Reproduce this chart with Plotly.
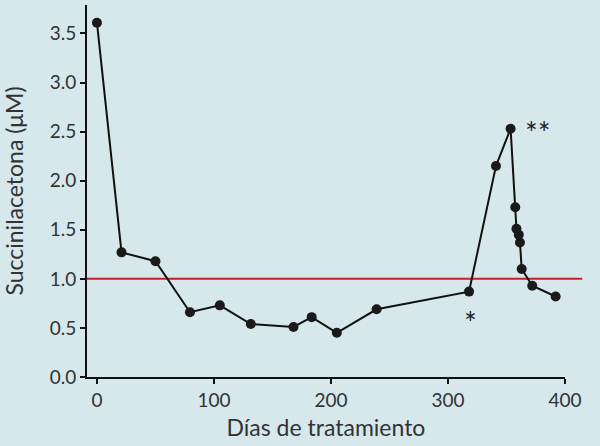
import plotly.graph_objects as go

days = [0, 21, 50, 79.5, 105, 131.5, 168, 183.5, 205, 239, 318, 341, 353.5, 357.5, 358.5, 360.5, 361.5, 363, 372, 392]
succ = [3.61, 1.27, 1.18, 0.66, 0.73, 0.54, 0.51, 0.61, 0.45, 0.69, 0.87, 2.15, 2.53, 1.73, 1.51, 1.45, 1.37, 1.10, 0.93, 0.82]
threshold = 1.0
x_ticks = [0, 100, 200, 300, 400]
y_ticks = [0.0, 0.5, 1.0, 1.5, 2.0, 2.5, 3.0, 3.5]
annotations_txt = [(319, 0.56, "*"), (377, 2.50, "**")]

bg = "#d6e8ec"
font = "Lato"

fig = go.Figure()
fig.add_shape(type="line", xref="paper", yref="y", x0=0, x1=1.036, y0=threshold, y1=threshold,
              line=dict(color="#c41e2e", width=2), layer="below")
fig.add_trace(go.Scatter(x=days, y=succ, mode="lines+markers",
                         line=dict(color="#111111", width=2),
                         marker=dict(color="#1a1a1a", size=10), showlegend=False))
for x, y, t in annotations_txt:
    fig.add_annotation(x=x, y=y, text=t, showarrow=False,
                       font=dict(family=font, size=30, color="#222222"))

fig.update_layout(
    width=600, height=446,
    margin=dict(l=87, r=35, t=5, b=69),
    paper_bgcolor=bg, plot_bgcolor=bg,
    font=dict(family=font, size=19, color="#333333"),
)
fig.update_xaxes(range=[-8.5, 400], tickvals=x_ticks, ticktext=[str(v) for v in x_ticks],
                 showgrid=False, zeroline=False, showline=True, linecolor="#111111", linewidth=2,
                 ticks="outside", ticklen=5, tickwidth=2, tickcolor="#111111", automargin=False,
                 title=dict(text="Días de tratamiento", standoff=10))
fig.update_yaxes(range=[0, 3.79], tickvals=y_ticks, ticktext=[f"{v:.1f}" for v in y_ticks],
                 showgrid=False, zeroline=False, showline=True, linecolor="#111111", linewidth=2,
                 ticks="outside", ticklen=5, tickwidth=2, tickcolor="#111111", automargin=False,
                 title=dict(text="Succinilacetona (μM)", standoff=21))
fig.write_html("out.html", config={"displayModeBar": False},
               post_script="document.body.style.margin='0';document.body.style.overflow='hidden';"
                           "document.body.style.background='" + bg + "';")
